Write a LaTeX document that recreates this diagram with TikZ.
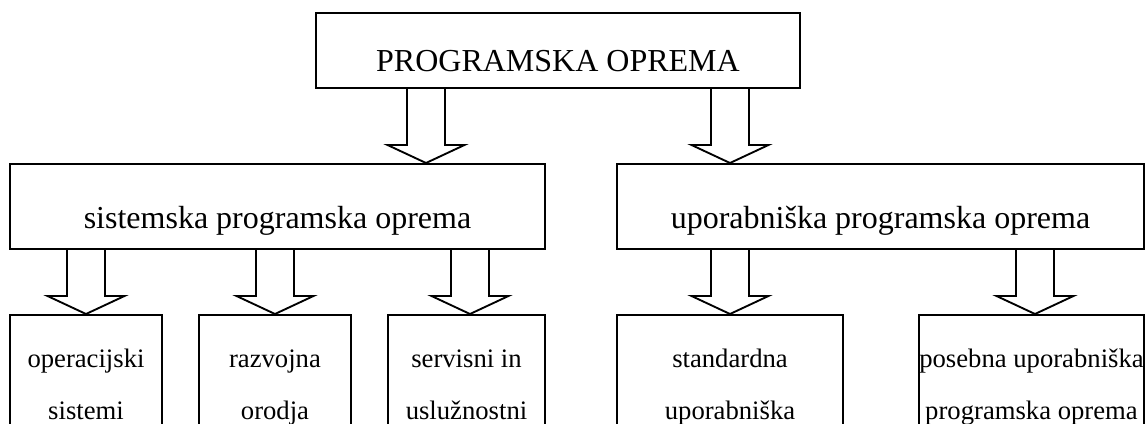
\documentclass[tikz,border=0pt]{standalone}
\usepackage{fontspec}
\setmainfont{Liberation Serif}
\usetikzlibrary{calc}

\tikzset{
  bigbox/.style={draw, line width=1.4pt, inner sep=0pt, anchor=north,
    font=\fontsize{24}{28}\selectfont},
  leafbox/.style={draw, line width=1.4pt, inner sep=0pt, anchor=north, align=center,
    text height=78.75pt, text depth=26.25pt, font=\fontsize{20}{39}\selectfont},
  hollow/.style={draw, line width=1.4pt, line join=miter},
}
% hollow block arrow: x of the tip, from node, to node
\newcommand{\hollowarrow}[3]{%
  \coordinate (tip) at (#1,0);
  \draw[hollow] ($(tip |- #2.south)+(-19,0)$) -- ($(tip |- #3.north)+(-19,-18)$)
    -- ($(tip |- #3.north)+(-38.5,-18)$) -- (tip |- #3.north)
    -- ($(tip |- #3.north)+(38.5,-18)$) -- ($(tip |- #3.north)+(19,-18)$)
    -- ($(tip |- #2.south)+(19,0)$);
}

\begin{document}
\begin{tikzpicture}[x=0.75pt, y=-0.75pt]
\clip (0,0) rectangle (1147,424);
% top level
\node[bigbox, minimum width=363pt, text height=44.25pt, text depth=12pt] (prog) at (558,12) {PROGRAMSKA OPREMA};
% second level
\node[bigbox, minimum width=401.25pt, text height=48.75pt, text depth=15pt] (sys) at (277.5,163) {sistemska programska oprema};
\node[bigbox, minimum width=395.25pt, text height=48.75pt, text depth=15pt] (usr) at (880.5,163) {uporabniška programska oprema};
% third level
\node[leafbox, minimum width=114pt] (os) at (86,314) {operacijski\\sistemi};
\node[leafbox, minimum width=114pt] (dev) at (275,314) {razvojna\\orodja};
\node[leafbox, minimum width=117.75pt] (util) at (466.5,314) {servisni in\\uslužnostni};
\node[leafbox, minimum width=169.5pt] (std) at (730,314) {standardna\\uporabniška};
\node[leafbox, minimum width=168.75pt] (spec) at (1031.5,314) {posebna uporabniška\\programska oprema};
% arrows
\hollowarrow{426}{prog}{sys}
\hollowarrow{730}{prog}{usr}
\hollowarrow{86}{sys}{os}
\hollowarrow{275}{sys}{dev}
\hollowarrow{470}{sys}{util}
\hollowarrow{730}{usr}{std}
\hollowarrow{1035}{usr}{spec}
\end{tikzpicture}
\end{document}
